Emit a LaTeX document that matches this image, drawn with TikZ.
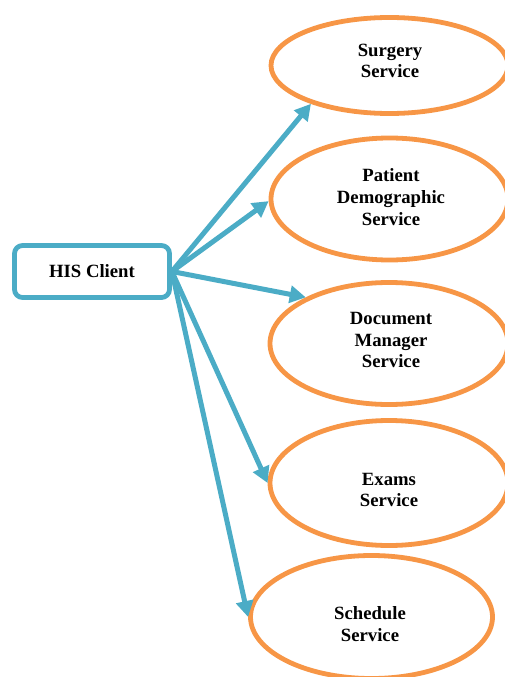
\documentclass[tikz,border=0pt]{standalone}
\usepackage{fontspec}
\setmainfont{Liberation Serif}
\usetikzlibrary{arrows.meta,shapes.geometric}
\definecolor{clientblue}{HTML}{4BACC6}
\definecolor{svcorange}{HTML}{F79646}
\begin{document}
\begin{tikzpicture}[x=1pt,y=-1pt,
  svc/.style={ellipse, draw=svcorange, fill=white, line width=4.8pt, inner sep=0pt},
  lbl/.style={align=center, font=\fontsize{18.7}{21.7}\selectfont\bfseries},
  client/.style={draw=clientblue, fill=white, line width=4.8pt, rounded corners=8pt,
    minimum width=155pt, minimum height=52pt, inner sep=0pt,
    font=\fontsize{18.7}{21.7}\selectfont\bfseries},
  link/.style={draw=clientblue, line width=5pt, -{Triangle[length=16pt,width=17pt]}}]
\useasboundingbox (0,0) rectangle (505,677);

% client box
\node[client] (his) at (92,271.5) {HIS Client};

% service ellipses
\node[svc, minimum width=237pt, minimum height=96pt]  (s1) at (389.5,65.5) {};
\node[svc, minimum width=237pt, minimum height=122pt] (s2) at (389.5,199) {};
\node[svc, minimum width=238pt, minimum height=122pt] (s3) at (389,343.5) {};
\node[svc, minimum width=238pt, minimum height=125pt] (s4) at (389,483) {};
\node[svc, minimum width=242pt, minimum height=123pt] (s5) at (371.5,617) {};

% service labels
\node[lbl] (l1) at (390,61)  {Surgery\\Service};
\node[lbl] (l2) at (391,197) {Patient\\Demographic\\Service};
\node[lbl] (l3) at (391,340) {Document\\Manager\\Service};
\node[lbl] (l4) at (389,490) {Exams\\Service};
\node[lbl] (l5) at (370,624) {Schedule\\Service};

% connectors
\draw[link] (his.east) -- (s1.206);
\draw[link] (his.east) -- (s2.181);
\draw[link] (his.east) -- (s3.151);
\draw[link] (his.east) -- (s4.180);
\draw[link] (his.east) -- (s5.180);
\end{tikzpicture}
\end{document}
